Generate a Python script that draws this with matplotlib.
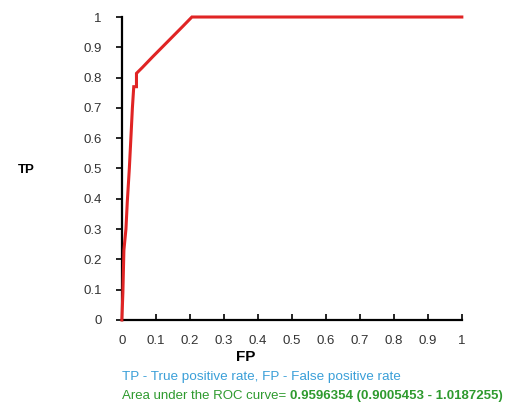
import matplotlib.pyplot as plt

plt.rcParams['font.family'] = ['Liberation Sans', 'DejaVu Sans']

# ROC curve points
fp = [0.0, 0.003, 0.006, 0.012, 0.016, 0.022, 0.027, 0.031, 0.035, 0.043, 0.043,
      0.06, 0.09, 0.12, 0.15, 0.18, 0.206, 1.0]
tp = [0.0, 0.09, 0.23, 0.30, 0.39, 0.50, 0.61, 0.70, 0.77, 0.77, 0.814,
      0.833, 0.868, 0.902, 0.936, 0.970, 1.0, 1.0]

ticks = [0, 0.1, 0.2, 0.3, 0.4, 0.5, 0.6, 0.7, 0.8, 0.9, 1]
tick_labels = ['0', '0.1', '0.2', '0.3', '0.4', '0.5', '0.6', '0.7', '0.8', '0.9', '1']

caption1 = 'TP - True positive rate, FP - False positive rate'
caption2a = 'Area under the ROC curve= '
caption2b = '0.9596354 (0.9005453 - 1.0187255)'

fig = plt.figure(figsize=(5.12, 4.05), dpi=100)
ax = fig.add_axes([0.238, 0.21, 0.664, 0.748])

ax.plot(fp, tp, color='#e02424', lw=2.2, solid_joinstyle='miter', clip_on=False, zorder=3)

ax.set_xlim(0, 1)
ax.set_ylim(0, 1)
ax.set_xticks(ticks)
ax.set_xticklabels(tick_labels)
ax.set_yticks(ticks)
ax.set_yticklabels(tick_labels)

for s in ['top', 'right']:
    ax.spines[s].set_visible(False)
for s in ['left', 'bottom']:
    ax.spines[s].set_linewidth(1.6)
    ax.spines[s].set_color('black')

ax.tick_params(axis='x', direction='in', length=4, width=1.2, pad=11,
               labelsize=9.5, labelcolor='#333333')
ax.tick_params(axis='y', direction='out', length=4, width=1.2, pad=10.5,
               labelsize=9.5, labelcolor='#333333')

fig.text(18 / 512, 1 - 170 / 405, 'TP', fontsize=9.5, fontweight='bold', va='center', ha='left')
fig.text(246 / 512, 1 - 357 / 405, 'FP', fontsize=11, fontweight='bold', va='center', ha='center')

fig.text(122 / 512, 1 - 377 / 405, caption1, fontsize=9.7, color='#3a9fd8', va='center', ha='left')
t = fig.text(122 / 512, 1 - 396 / 405, caption2a, fontsize=9.5, color='#2e9a2e', va='center', ha='left')
fig.canvas.draw()
bb = t.get_window_extent()
fig.text(bb.x1 / fig.bbox.width, 1 - 396 / 405, caption2b, fontsize=9.5, color='#2e9a2e',
         fontweight='bold', va='center', ha='left')

fig.savefig('out.png', dpi=100)
